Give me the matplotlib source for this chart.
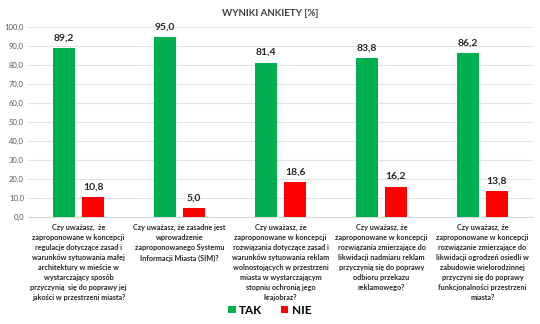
import matplotlib
matplotlib.use("Agg")
import matplotlib.pyplot as plt
import numpy as np

categories = [
    "Czy uważasz,  że\nzaproponowane w koncepcji\nregulacje dotyczące zasad i\nwarunków sytuowania małej\narchitektury w mieście w\nwystarczający sposób\nprzyczynią  się do poprawy jej\njakości w przestrzeni miasta?",
    "Czy uważasz, że zasadne jest\nwprowadzenie\nzaproponowanego Systemu\nInformacji Miasta (SIM)?",
    "Czy uważasz, że\nzaproponowane w koncepcji\nrozwiązania dotyczące zasad i\nwarunków sytuowania reklam\nwolnostojących w przestrzeni\nmiasta w wystarczającym\nstopniu ochronią jego\nkrajobraz?",
    "Czy uważasz, że\nzaproponowane w koncepcji\nrozwiązania zmierzające do\nlikwidacji nadmiaru reklam\nprzyczynią się do poprawy\nodbioru przekazu\nreklamowego?",
    "Czy uważasz, że\nzaproponowane w koncepcji\nrozwiązanie zmierzające do\nlikwidacji ogrodzeń osiedli w\nzabudowie wielorodzinnej\nprzyczyni się do poprawy\nfunkcjonalności przestrzeni\nmiasta?",
]
tak = [89.2, 95.0, 81.4, 83.8, 86.2]
nie = [10.8, 5.0, 18.6, 16.2, 13.8]
series_names = ["TAK", "NIE"]
yticks = np.arange(0, 101, 10)

plt.rcParams['font.family'] = ['Lato', 'DejaVu Sans']
fig = plt.figure(figsize=(5.4, 3.24), dpi=100)
ax = fig.add_axes([0.052, 0.329, 0.935, 0.587])

x = np.arange(len(categories))
w = 0.218
gap = 0.07
b1 = ax.bar(x - (w + gap) / 2, tak, w, color="#00B050", label=series_names[0], zorder=3)
b2 = ax.bar(x + (w + gap) / 2, nie, w, color="#FF0000", label=series_names[1], zorder=3)

for bars in (b1, b2):
    for r in bars:
        h = r.get_height()
        ax.annotate(f"{h:.1f}".replace(".", ","), (r.get_x() + r.get_width() / 2, h),
                    xytext=(0, 4), textcoords="offset points", ha="center", va="bottom",
                    fontsize=7.5, fontweight="bold", color="#262626")

ax.set_ylim(0, 100)
ax.set_xlim(-0.5, len(categories) - 0.5)
ax.set_yticks(yticks)
ax.set_yticklabels([f"{v:.1f}".replace(".", ",") for v in yticks], fontsize=5.5, color="#595959")
ax.set_xticks(x)
ax.set_xticklabels(categories, fontsize=5.2, fontweight="bold", color="#262626", linespacing=1.5, va="top")
ax.tick_params(axis="both", length=0)
ax.tick_params(axis="x", pad=5)
ax.tick_params(axis="y", pad=3)
ax.grid(axis="y", color="#E3E3E3", linewidth=0.8, zorder=0)
for s in ["top", "right", "left"]:
    ax.spines[s].set_visible(False)
ax.spines["bottom"].set_color("#D9D9D9")

fig.suptitle("WYNIKI ANKIETY [%]", y=0.972, fontsize=7, fontweight="bold", color="#404040")

fig.legend(handles=[b1, b2], labels=series_names, loc="center", bbox_to_anchor=(0.5, 0.043), ncol=2,
           frameon=False, handlelength=0.6, handleheight=0.6, handletextpad=0.3,
           columnspacing=1.6, prop={"weight": "bold", "size": 8.5})

fig.savefig("out.png", dpi=100, facecolor="white")
